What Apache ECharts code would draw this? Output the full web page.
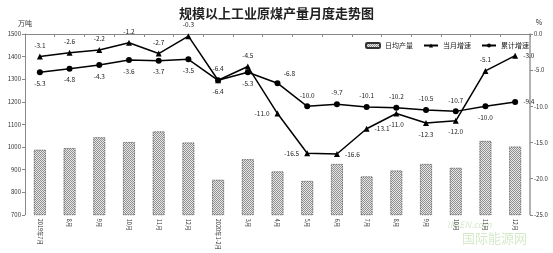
<!DOCTYPE html>
<html><head><meta charset="utf-8">
<script src="https://cdn.jsdelivr.net/npm/echarts@6/dist/echarts.min.js"></script>
<style>html,body{margin:0;padding:0;background:#fff}#c{width:553px;height:253px}</style>
</head><body><div id="c"></div>
<script>
var categories = ['2019年7月','8月','9月','10月','11月','12月','2020年1-2月','3月','4月','5月','6月','7月','8月','9月','10月','11月','12月'];
var dailyOutput = [988, 995, 1043, 1022, 1069, 1020, 855, 946, 892, 850, 925, 870, 896, 925, 908, 1027, 1002];
var monthGrowth = [-3.1, -2.6, -2.2, -1.2, -2.7, -0.3, -6.4, -4.5, -11.0, -16.5, -16.6, -13.1, -11.0, -12.3, -12.0, -5.1, -3.0];
var cumGrowth = [-5.3, -4.8, -4.3, -3.6, -3.7, -3.5, -6.4, -5.3, -6.8, -10.0, -9.7, -10.1, -10.2, -10.5, -10.7, -10.0, -9.4];
var leftTicks = [700, 800, 900, 1000, 1100, 1200, 1300, 1400, 1500];
var rightTicks = [-25, -20, -15, -10, -5, 0];

var monthLabelPos = ['top','top','top','top','top','top','top','top','left','left','right','right','bottom','bottom','bottom','top','right'];
var cumLabelPos = ['bottom','bottom','bottom','bottom','bottom','bottom','bottom','bottom','top','top','top','top','top','top','top','bottom','right'];

var pc = document.createElement('canvas');
pc.width = 4; pc.height = 4;
var g = pc.getContext('2d');
g.fillStyle = '#e8e8e8'; g.fillRect(0,0,4,4);
g.fillStyle = '#909090';
g.fillRect(0,0,1,1); g.fillRect(2,0,1,1); g.fillRect(1,1,1,1); g.fillRect(3,1,1,1);
g.fillRect(0,2,1,1); g.fillRect(2,2,1,1); g.fillRect(1,3,1,1); g.fillRect(3,3,1,1);

var fam = '"Noto Sans CJK SC", "Noto Sans", sans-serif';
function fmt(v){ return v.toFixed(1); }
var chart = echarts.init(document.getElementById('c'));
chart.setOption({
  animation: false,
  textStyle: {fontFamily: fam},
  title: {text: '规模以上工业原煤产量月度走势图', left: 'center', top: 2,
    textStyle: {fontSize: 13, fontWeight: 'bold', color: '#222', fontFamily: '"Noto Sans CJK SC", serif'}},
  legend: {top: 37, left: 360, itemWidth: 14, itemHeight: 5, itemGap: 10,
    textStyle: {fontSize: 7, color: '#222'},
    data: ['日均产量','当月增速','累计增速']},
  grid: {left: 25, right: 23, top: 34, bottom: 38, containLabel: false},
  xAxis: {type: 'category', data: categories,
    axisLine: {lineStyle: {color: '#888'}},
    axisTick: {show: true, lineStyle: {color: '#888'}, length: 3},
    axisLabel: {rotate: -90, fontSize: 5.5, color: '#333', margin: 4, interval: 0}},
  yAxis: [
    {type: 'value', min: 700, max: 1500, interval: 100, name: '万吨',
     nameTextStyle: {fontSize: 7, color: '#333'}, nameGap: 7,
     axisLine: {show: true, lineStyle: {color: '#888'}},
     axisTick: {show: true, length: 3, lineStyle: {color: '#888'}},
     splitLine: {show: false},
     axisLabel: {fontSize: 6, color: '#333', margin: 4, formatter: function(v){return String(v);}}},
    {type: 'value', min: -25, max: 0, interval: 5, name: '%',
     nameTextStyle: {fontSize: 7, color: '#333', padding: [0, 0, 0, 18]}, nameGap: 8,
     axisLine: {show: true, lineStyle: {color: '#999', width: 1.5}},
     axisTick: {show: true, length: 3, inside: false, lineStyle: {color: '#888'}},
     splitLine: {show: false},
     axisLabel: {fontSize: 6, color: '#333', margin: 4, formatter: function(v){return fmt(v);}}}
  ],
  series: [
    {name: '日均产量', type: 'bar', yAxisIndex: 0, barWidth: 12, data: dailyOutput,
     itemStyle: {color: {image: pc, repeat: 'repeat'}, borderColor: '#333', borderWidth: 0.8, borderType: 'dotted'}},
    {name: '当月增速', type: 'line', yAxisIndex: 1, symbol: 'triangle', symbolSize: 6,
     lineStyle: {color: '#000', width: 1.5}, itemStyle: {color: '#000'},
     data: monthGrowth.map(function(v, i){ return {value: v, label: {position: monthLabelPos[i]}}; }),
     label: {show: true, fontSize: 6.5, color: '#222', distance: 5, formatter: function(p){return fmt(p.value);}}},
    {name: '累计增速', type: 'line', yAxisIndex: 1, symbol: 'circle', symbolSize: 6,
     lineStyle: {color: '#000', width: 1.5}, itemStyle: {color: '#000'},
     data: cumGrowth.map(function(v, i){ return {value: v, label: {position: cumLabelPos[i], offset: i === 8 ? [12, 2] : [0, 0]}}; }),
     label: {show: true, fontSize: 6.5, color: '#222', distance: 5, formatter: function(p){return fmt(p.value);}}}
  ],
  graphic: [
    {type: 'text', left: 447, top: 220, style: {text: 'IN-EN.com', fontSize: 9, fontStyle: 'italic', fill: 'rgba(150,200,120,0.4)', fontFamily: fam}},
    {type: 'text', left: 462, top: 232, style: {text: '国际能源网', fontSize: 13, fill: 'rgba(150,200,120,0.4)', fontFamily: fam}}
  ]
});
</script></body></html>
